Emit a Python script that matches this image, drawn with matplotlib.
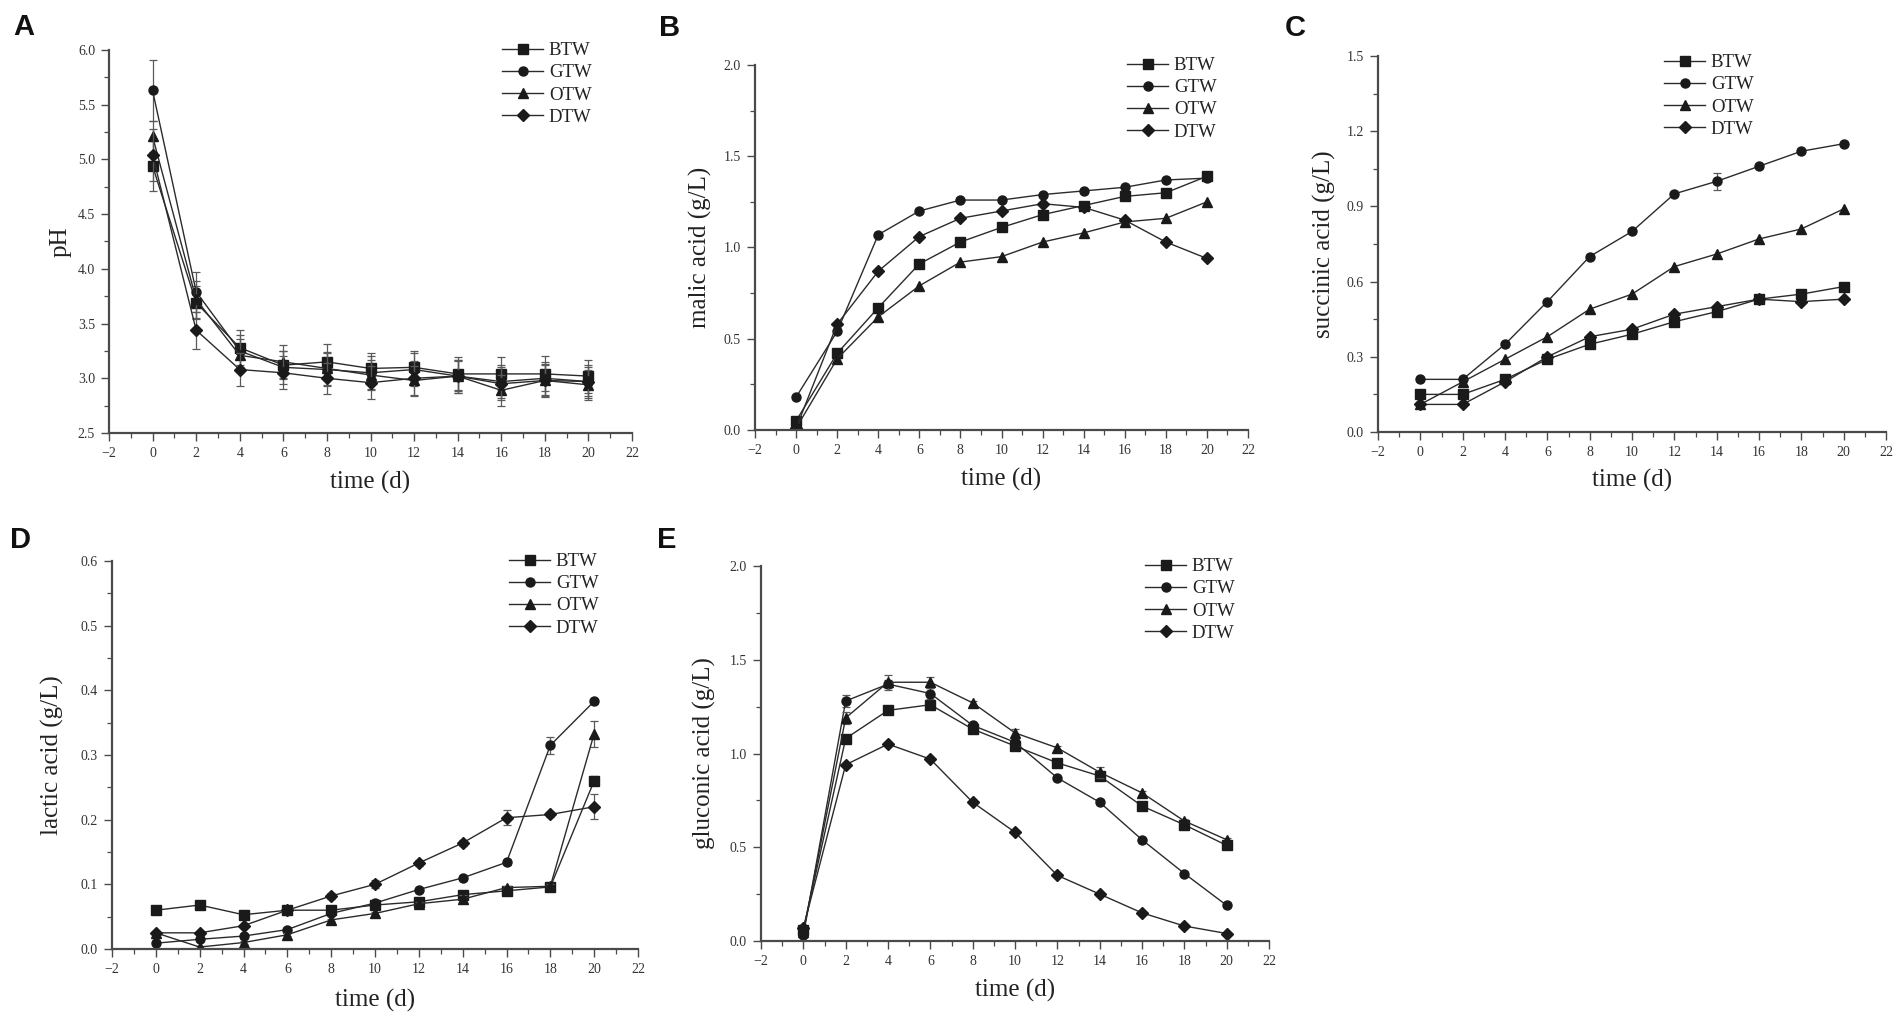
import numpy as np
import matplotlib
matplotlib.use("Agg")
import matplotlib.pyplot as plt
from matplotlib.ticker import MultipleLocator, FormatStrFormatter

# sampling days
days = [0, 2, 4, 6, 8, 10, 12, 14, 16, 18, 20]
series_names = ["BTW", "GTW", "OTW", "DTW"]
markers = ["s", "o", "^", "D"]

# A - pH
ph_btw = [4.94, 3.69, 3.28, 3.12, 3.15, 3.09, 3.10, 3.04, 3.04, 3.04, 3.02]
ph_gtw = [5.63, 3.79, 3.25, 3.10, 3.08, 3.05, 3.08, 3.02, 2.97, 3.00, 2.97]
ph_otw = [5.21, 3.72, 3.21, 3.15, 3.09, 3.03, 2.98, 3.02, 2.89, 2.98, 2.94]
ph_dtw = [5.04, 3.44, 3.08, 3.05, 3.00, 2.96, 3.00, 3.02, 2.95, 2.98, 2.97]
ph_err_btw = [0.23, 0.15, 0.16, 0.13, 0.16, 0.14, 0.15, 0.15, 0.15, 0.16, 0.15]
ph_err_gtw = [0.28, 0.18, 0.15, 0.15, 0.15, 0.15, 0.15, 0.15, 0.15, 0.15, 0.13]
ph_err_otw = [0.14, 0.17, 0.15, 0.15, 0.15, 0.14, 0.13, 0.14, 0.14, 0.14, 0.14]
ph_err_dtw = [0.24, 0.17, 0.15, 0.15, 0.14, 0.15, 0.16, 0.15, 0.15, 0.15, 0.15]

# B - malic acid (g/L)
malic_btw = [0.05, 0.42, 0.67, 0.91, 1.03, 1.11, 1.18, 1.23, 1.28, 1.30, 1.39]
malic_gtw = [0.18, 0.54, 1.07, 1.20, 1.26, 1.26, 1.29, 1.31, 1.33, 1.37, 1.38]
malic_otw = [0.01, 0.39, 0.62, 0.79, 0.92, 0.95, 1.03, 1.08, 1.14, 1.16, 1.25]
malic_dtw = [0.01, 0.58, 0.87, 1.06, 1.16, 1.20, 1.24, 1.22, 1.15, 1.03, 0.94]

# C - succinic acid (g/L)
succ_btw = [0.15, 0.15, 0.21, 0.29, 0.35, 0.39, 0.44, 0.48, 0.53, 0.55, 0.58]
succ_gtw = [0.21, 0.21, 0.35, 0.52, 0.70, 0.80, 0.95, 1.00, 1.06, 1.12, 1.15]
succ_otw = [0.11, 0.20, 0.29, 0.38, 0.49, 0.55, 0.66, 0.71, 0.77, 0.81, 0.89]
succ_dtw = [0.11, 0.11, 0.20, 0.30, 0.38, 0.41, 0.47, 0.50, 0.53, 0.52, 0.53]
succ_err_gtw = [0.005, 0.005, 0.008, 0.008, 0.008, 0.008, 0.008, 0.035, 0.008, 0.008, 0.008]

# D - lactic acid (g/L)
lact_btw = [0.060, 0.068, 0.053, 0.060, 0.060, 0.068, 0.073, 0.084, 0.090, 0.096, 0.260]
lact_gtw = [0.009, 0.015, 0.020, 0.030, 0.055, 0.071, 0.092, 0.110, 0.134, 0.315, 0.383]
lact_otw = [0.025, 0.003, 0.010, 0.022, 0.045, 0.055, 0.070, 0.077, 0.095, 0.097, 0.333]
lact_dtw = [0.025, 0.025, 0.036, 0.060, 0.082, 0.100, 0.133, 0.164, 0.203, 0.208, 0.220]
lact_err_btw = [0.002, 0.002, 0.002, 0.002, 0.002, 0.002, 0.002, 0.003, 0.003, 0.003, 0.007]
lact_err_gtw = [0.002, 0.002, 0.002, 0.002, 0.002, 0.002, 0.002, 0.003, 0.004, 0.013, 0.004]
lact_err_otw = [0.002, 0.002, 0.002, 0.002, 0.002, 0.002, 0.003, 0.006, 0.003, 0.003, 0.020]
lact_err_dtw = [0.002, 0.002, 0.002, 0.002, 0.004, 0.006, 0.004, 0.004, 0.012, 0.004, 0.019]

# E - gluconic acid (g/L)
gluc_btw = [0.06, 1.08, 1.23, 1.26, 1.13, 1.04, 0.95, 0.88, 0.72, 0.62, 0.51]
gluc_gtw = [0.03, 1.28, 1.37, 1.32, 1.15, 1.06, 0.87, 0.74, 0.54, 0.36, 0.19]
gluc_otw = [0.05, 1.19, 1.38, 1.38, 1.27, 1.11, 1.03, 0.90, 0.79, 0.64, 0.54]
gluc_dtw = [0.07, 0.94, 1.05, 0.97, 0.74, 0.58, 0.35, 0.25, 0.15, 0.08, 0.04]
gluc_err_gtw = [0.01, 0.03, 0.02, 0.03, 0.01, 0.01, 0.01, 0.01, 0.01, 0.01, 0.01]
gluc_err_otw = [0.01, 0.03, 0.04, 0.03, 0.01, 0.02, 0.01, 0.03, 0.01, 0.01, 0.01]

W, H = 1904, 1021
fig = plt.figure(figsize=(W / 100, H / 100), dpi=100)
fig.patch.set_facecolor("white")

serif = ["Liberation Serif", "DejaVu Serif"]
line_col = "#2b2b2b"
axis_col = "#4a4a4a"


def px_axes(left, top, right, bottom):
    return fig.add_axes([left / W, 1 - bottom / H, (right - left) / W, (bottom - top) / H])


def draw_panel(ax, ys, errs, ylim, ymajor, ylabel, letter, letter_xy, legend_xy, label_x_px, xlabel_y_px):
    for y, e, m, name in zip(ys, errs, markers, series_names):
        if e is not None:
            ax.errorbar(days, y, yerr=e, fmt="none", ecolor="#5a5a5a", elinewidth=0.9,
                        capsize=3, capthick=0.9)
        ax.plot(days, y, color=line_col, marker=m, markersize=6.5 if m != "D" else 5.8,
                markerfacecolor="#1a1a1a", markeredgecolor="#1a1a1a",
                linewidth=1.0, label=name)
    ax.set_xlim(-2, 22)
    ax.set_ylim(*ylim)
    ax.xaxis.set_major_locator(MultipleLocator(2))
    ax.xaxis.set_minor_locator(MultipleLocator(1))
    ax.yaxis.set_major_locator(MultipleLocator(ymajor))
    ax.yaxis.set_minor_locator(MultipleLocator(ymajor / 2))
    ax.yaxis.set_major_formatter(FormatStrFormatter("%.1f"))
    for s in ["top", "right"]:
        ax.spines[s].set_visible(False)
    for s in ["left", "bottom"]:
        ax.spines[s].set_color(axis_col)
        ax.spines[s].set_linewidth(1.6)
    ax.tick_params(which="major", direction="out", length=6, width=1.0, color=axis_col,
                   labelsize=10, labelcolor="#333333", pad=4)
    ax.tick_params(which="minor", direction="out", length=3.5, width=0.9, color=axis_col)
    for t in ax.get_xticklabels() + ax.get_yticklabels():
        t.set_family(serif)
    ax.set_xlabel("time (d)", family=serif, fontsize=18, color="#222222")
    ax.set_ylabel(ylabel, family=serif, fontsize=18, color="#222222")

    # axis label positions in figure pixels
    bb = ax.get_position()
    ax_left = bb.x0 * W
    ax_w = bb.width * W
    ax_top = (1 - bb.y1) * H
    ax_h = bb.height * H
    ax.yaxis.set_label_coords((label_x_px - ax_left) / ax_w, 0.5)
    ax.xaxis.set_label_coords(0.5, -(xlabel_y_px - (ax_top + ax_h)) / ax_h)

    leg = ax.legend(loc="upper left", bbox_to_anchor=(legend_xy[0] / W, 1 - legend_xy[1] / H),
                    bbox_transform=fig.transFigure, frameon=False, prop={"family": serif, "size": 13.5},
                    handlelength=2.2, handletextpad=0.3, labelspacing=0.27,
                    borderpad=0, borderaxespad=0)
    for t in leg.get_texts():
        t.set_color("#222222")

    fig.text(letter_xy[0] / W, 1 - letter_xy[1] / H, letter, family=["Liberation Sans", "DejaVu Sans"],
             fontsize=21, fontweight="bold", ha="center", va="center", color="#111111")


axA = px_axes(109, 50, 632, 433)
draw_panel(axA, [ph_btw, ph_gtw, ph_otw, ph_dtw],
           [ph_err_btw, ph_err_gtw, ph_err_otw, ph_err_dtw],
           (2.5, 6.0), 0.5, "pH", "A", (24, 27), (502, 42), 72, 471)

axB = px_axes(755, 65, 1248, 430)
draw_panel(axB, [malic_btw, malic_gtw, malic_otw, malic_dtw],
           [None, None, None, None],
           (0.0, 2.0), 0.5, "malic acid (g/L)", "B", (670, 28), (1127, 57), 712, 468)

axC = px_axes(1378, 56, 1886, 432)
draw_panel(axC, [succ_btw, succ_gtw, succ_otw, succ_dtw],
           [None, succ_err_gtw, None, None],
           (0.0, 1.5), 0.3, "succinic acid (g/L)", "C", (1295, 28), (1664, 54), 1336, 469)

axD = px_axes(112, 561, 638, 949)
draw_panel(axD, [lact_btw, lact_gtw, lact_otw, lact_dtw],
           [lact_err_btw, lact_err_gtw, lact_err_otw, lact_err_dtw],
           (0.0, 0.6), 0.1, "lactic acid (g/L)", "D", (21, 540), (509, 553), 64, 989)

axE = px_axes(761, 566, 1269, 941)
draw_panel(axE, [gluc_btw, gluc_gtw, gluc_otw, gluc_dtw],
           [None, gluc_err_gtw, gluc_err_otw, None],
           (0.0, 2.0), 0.5, "gluconic acid (g/L)", "E", (667, 540), (1145, 558), 716, 979)

fig.savefig("out.png", dpi=100, facecolor="white")
